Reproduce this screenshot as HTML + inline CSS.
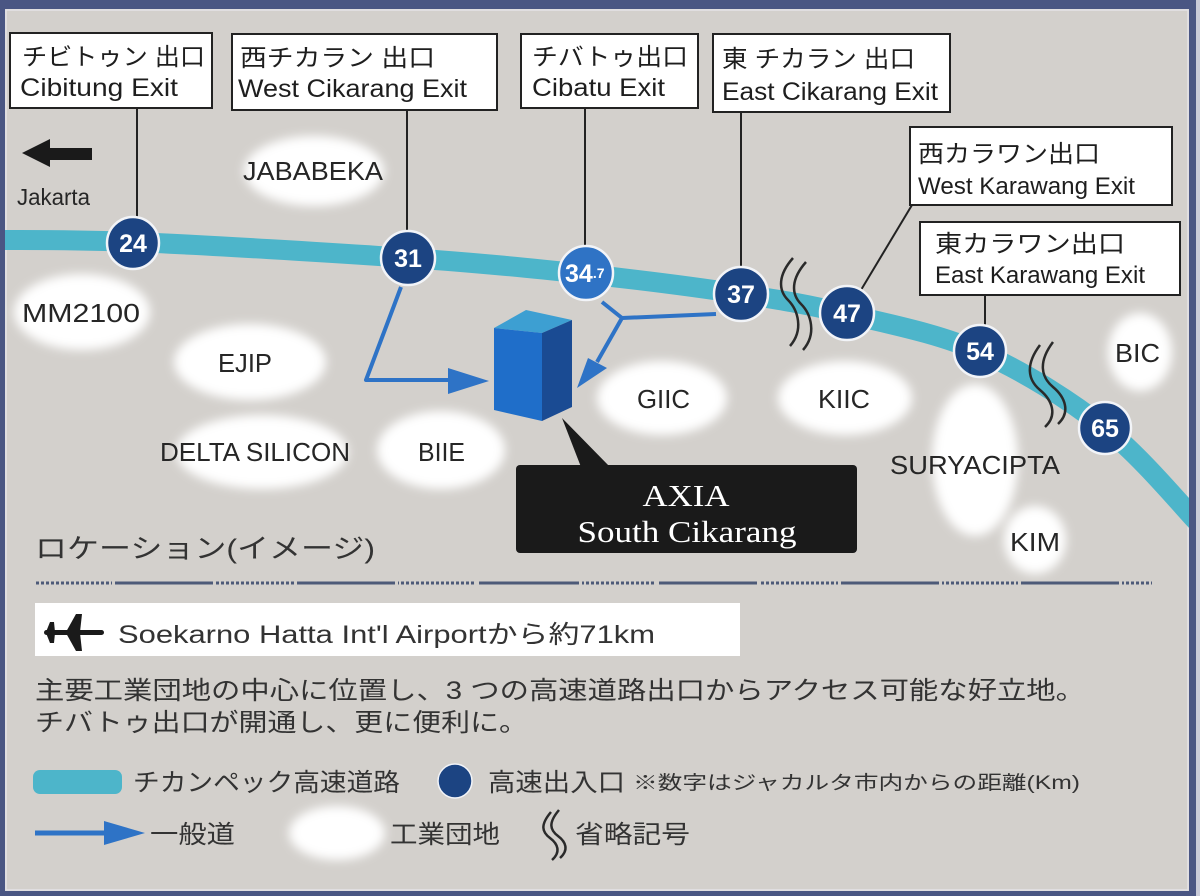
<!DOCTYPE html>
<html><head><meta charset="utf-8">
<style>
html,body{margin:0;padding:0;background:#d3d0cc;}
svg{display:block;}
.lab{font-family:"Liberation Sans","Noto Sans CJK JP",sans-serif;fill:#262626;}
.jp{font-family:"Liberation Sans","Noto Sans CJK JP",sans-serif;fill:#1e1e1e;}
.num{font-family:"Liberation Sans",sans-serif;font-weight:bold;fill:#fff;}
.btm{font-family:"Liberation Sans","Noto Sans CJK JP",sans-serif;fill:#333;}
</style></head><body>
<svg width="1200" height="896" viewBox="0 0 1200 896" xmlns="http://www.w3.org/2000/svg">
<defs>
<filter id="glow" x="-60%" y="-60%" width="220%" height="220%"><feGaussianBlur stdDeviation="5"/></filter>
<clipPath id="inner"><rect x="5" y="9" width="1184" height="882"/></clipPath>
</defs>
<rect width="1200" height="896" fill="#4a5683"/>
<rect x="1196" y="0" width="4" height="896" fill="#c9cbd8"/>
<rect x="5" y="9" width="1184" height="882" fill="#d3d0cc"/>
<rect x="6" y="10" width="1182" height="880" fill="none" stroke="#e4e3e6" stroke-width="1.5"/>

<g clip-path="url(#inner)">
<!-- industrial estates glow -->
<g fill="#fff" filter="url(#glow)">
<ellipse cx="314" cy="171" rx="70" ry="35"/>
<ellipse cx="82" cy="312" rx="68" ry="38"/>
<ellipse cx="250" cy="362" rx="76" ry="38"/>
<ellipse cx="262" cy="452" rx="86" ry="37"/>
<ellipse cx="441" cy="450" rx="64" ry="39"/>
<ellipse cx="662" cy="398" rx="65" ry="37"/>
<ellipse cx="845" cy="398" rx="67" ry="37"/>
<ellipse cx="975" cy="460" rx="43" ry="76"/>
<ellipse cx="1035" cy="540" rx="31" ry="34"/>
<ellipse cx="1140" cy="352" rx="32" ry="39"/>
<ellipse cx="337" cy="833" rx="48" ry="27"/>
</g>

<!-- highway -->
<path d="M -20 240 C 5.5 240.3, 61.7 239, 133 242 C 204.3 245, 332.7 252.7, 408 258 C 483.3 263.3, 529.5 268, 585 274 C 640.5 280, 697.3 287.3, 741 294 C 784.7 300.7, 807.2 304.3, 847 314 C 886.8 323.7, 937 333, 980 352 C 1023 371, 1068.3 399.2, 1105 428 C 1141.7 456.8, 1184.2 508.8, 1200 525" fill="none" stroke="#4db5ca" stroke-width="20"/>

<!-- exit boxes -->
<g fill="#fff" stroke="#222" stroke-width="2">
<rect x="10" y="33" width="202" height="75"/>
<rect x="232" y="34" width="265" height="76"/>
<rect x="521" y="34" width="177" height="74"/>
<rect x="713" y="34" width="237" height="78"/>
<rect x="910" y="127" width="262" height="78"/>
<rect x="920" y="222" width="260" height="73"/>
</g>
<g class="jp" font-size="24">
<text x="22" y="65" textLength="183" lengthAdjust="spacingAndGlyphs">チビトゥン 出口</text>
<text x="20" y="96" font-size="25" textLength="158" lengthAdjust="spacingAndGlyphs">Cibitung Exit</text>
<text x="240" y="66" textLength="195" lengthAdjust="spacingAndGlyphs">西チカラン 出口</text>
<text x="238" y="97" font-size="25" textLength="229" lengthAdjust="spacingAndGlyphs">West Cikarang Exit</text>
<text x="532" y="65" textLength="156" lengthAdjust="spacingAndGlyphs">チバトゥ出口</text>
<text x="532" y="96" font-size="25" textLength="133" lengthAdjust="spacingAndGlyphs">Cibatu Exit</text>
<text x="722" y="67" textLength="193" lengthAdjust="spacingAndGlyphs">東 チカラン 出口</text>
<text x="722" y="100" font-size="25" textLength="216" lengthAdjust="spacingAndGlyphs">East Cikarang Exit</text>
<text x="918" y="162" textLength="182" lengthAdjust="spacingAndGlyphs">西カラワン出口</text>
<text x="918" y="194" font-size="24" textLength="217" lengthAdjust="spacingAndGlyphs">West Karawang Exit</text>
<text x="935" y="252" textLength="190" lengthAdjust="spacingAndGlyphs">東カラワン出口</text>
<text x="935" y="283" font-size="24" textLength="210" lengthAdjust="spacingAndGlyphs">East Karawang Exit</text>
</g>

<!-- leader lines -->
<g stroke="#222" stroke-width="2" fill="none">
<line x1="137" y1="108" x2="137" y2="222"/>
<line x1="407" y1="110" x2="407" y2="236"/>
<line x1="585" y1="108" x2="585" y2="250"/>
<line x1="741" y1="112" x2="741" y2="272"/>
<line x1="912" y1="205" x2="858" y2="295"/>
<line x1="985" y1="295" x2="985" y2="330"/>
</g>

<!-- squiggles -->
<g stroke="#2a2a2a" stroke-width="2.5" fill="none">
<path d="M 793 258 C 778 275, 778 290, 788 300 S 804 330, 790 346"/>
<path d="M 806 262 C 791 279, 791 294, 801 304 S 817 334, 803 350"/>
<path d="M 1040 345 C 1025 365, 1028 380, 1040 390 S 1058 415, 1045 427"/>
<path d="M 1053 342 C 1038 362, 1041 377, 1053 387 S 1071 412, 1058 424"/>
<path d="M 551 812 C 540 825, 542 832, 550 838 S 561 852, 552 860"/>
<path d="M 559 810 C 548 823, 550 830, 558 836 S 569 850, 560 858"/>
</g>

<!-- blue roads -->
<g stroke="#2e73c6" stroke-width="4" fill="none" stroke-linejoin="round">
<polyline points="401,287 366,380 452,380"/>
<polyline points="602,302 622,318 716,314"/>
<line x1="622" y1="318" x2="597" y2="362"/>
</g>
<g fill="#2e73c6">
<polygon points="448,368 489,381 448,394"/>
<polygon points="588,358 607,368 577,388"/>
</g>

<!-- building -->
<polygon points="494,328 526,310 572,320 542,333" fill="#3d9fd2"/>
<polygon points="494,328 542,333 542,421 494,410" fill="#1f6ec9"/>
<polygon points="542,333 572,320 572,407 542,421" fill="#1a4b93"/>

<!-- callout -->
<polygon points="562,418 581,467 610,467" fill="#1a1a1a"/>
<rect x="516" y="465" width="341" height="88" rx="4" fill="#1a1a1a"/>
<text x="686" y="506" text-anchor="middle" font-family="'Liberation Serif',serif" font-size="31" fill="#fff" textLength="87" lengthAdjust="spacingAndGlyphs">AXIA</text>
<text x="687" y="542" text-anchor="middle" font-family="'Liberation Serif',serif" font-size="31" fill="#fff" textLength="219" lengthAdjust="spacingAndGlyphs">South Cikarang</text>

<!-- exit circles -->
<g stroke="#f2f4f8" stroke-width="2.5">
<circle cx="133" cy="243" r="26" fill="#1c4482"/>
<circle cx="408" cy="258" r="27" fill="#1c4482"/>
<circle cx="586" cy="273" r="27" fill="#2f73c5"/>
<circle cx="741" cy="294" r="27" fill="#1c4482"/>
<circle cx="847" cy="313" r="27" fill="#1c4482"/>
<circle cx="980" cy="351" r="26" fill="#1c4482"/>
<circle cx="1105" cy="428" r="26" fill="#1c4482"/>
</g>
<g class="num" font-size="25" text-anchor="middle">
<text x="133" y="252">24</text>
<text x="408" y="267">31</text>
<text x="741" y="303">37</text>
<text x="847" y="322">47</text>
<text x="980" y="360">54</text>
<text x="1105" y="437">65</text>
</g>
<text x="565" y="282" class="num" font-size="25">34<tspan font-size="14" dy="-4">.7</tspan></text>

<!-- Jakarta arrow -->
<polygon points="22,153 50,139 50,148 92,148 92,160 50,160 50,167" fill="#1a1a1a"/>
<text x="17" y="205" class="lab" font-size="23" textLength="73" lengthAdjust="spacingAndGlyphs">Jakarta</text>

<!-- estate labels -->
<g class="lab" font-size="26">
<text x="243" y="180" textLength="140" lengthAdjust="spacingAndGlyphs">JABABEKA</text>
<text x="22" y="322" textLength="118" lengthAdjust="spacingAndGlyphs">MM2100</text>
<text x="218" y="372" textLength="54" lengthAdjust="spacingAndGlyphs">EJIP</text>
<text x="160" y="461" textLength="190" lengthAdjust="spacingAndGlyphs">DELTA SILICON</text>
<text x="418" y="461" textLength="47" lengthAdjust="spacingAndGlyphs">BIIE</text>
<text x="637" y="408" textLength="53" lengthAdjust="spacingAndGlyphs">GIIC</text>
<text x="818" y="408" textLength="52" lengthAdjust="spacingAndGlyphs">KIIC</text>
<text x="890" y="474" textLength="170" lengthAdjust="spacingAndGlyphs">SURYACIPTA</text>
<text x="1010" y="551" textLength="50" lengthAdjust="spacingAndGlyphs">KIM</text>
<text x="1115" y="362" textLength="45" lengthAdjust="spacingAndGlyphs">BIC</text>
</g>
</g>

<!-- bottom section -->
<text x="35" y="558" class="btm" font-size="27" textLength="340" lengthAdjust="spacingAndGlyphs">ロケーション(イメージ)</text>

<!-- separator -->
<g stroke="#4d5a78" stroke-width="3">
<line x1="36" y1="583" x2="1152" y2="583" stroke-dasharray="3 2"/>
<line x1="115" y1="583" x2="213" y2="583"/>
<line x1="297" y1="583" x2="395" y2="583"/>
<line x1="479" y1="583" x2="579" y2="583"/>
<line x1="659" y1="583" x2="757" y2="583"/>
<line x1="841" y1="583" x2="939" y2="583"/>
<line x1="1021" y1="583" x2="1119" y2="583"/>
</g>
<g fill="#d3d0cc">
<rect x="112" y="580" width="3" height="6"/><rect x="213" y="580" width="3" height="6"/>
<rect x="294" y="580" width="3" height="6"/><rect x="395" y="580" width="3" height="6"/>
<rect x="476" y="580" width="3" height="6"/><rect x="579" y="580" width="3" height="6"/>
<rect x="656" y="580" width="3" height="6"/><rect x="757" y="580" width="3" height="6"/>
<rect x="838" y="580" width="3" height="6"/><rect x="939" y="580" width="3" height="6"/>
<rect x="1018" y="580" width="3" height="6"/><rect x="1119" y="580" width="3" height="6"/>
</g>

<!-- airport box -->
<rect x="35" y="603" width="705" height="53" fill="#fff"/>
<g fill="#1a1a1a">
<rect x="44" y="630" width="60" height="5" rx="2.5"/>
<polygon points="66,632 76,614 82,614 80,632"/>
<polygon points="66,633 76,651 82,651 80,633"/>
<polygon points="46,632 50,622 54,622 55,632"/>
<polygon points="46,633 50,643 54,643 55,633"/>
</g>
<text x="118" y="643" class="btm" font-size="25" fill="#222" textLength="537" lengthAdjust="spacingAndGlyphs">Soekarno Hatta Int'l Airportから約71km</text>

<text x="35" y="699" class="btm" font-size="25" textLength="1050" lengthAdjust="spacingAndGlyphs">主要工業団地の中心に位置し、3 つの高速道路出口からアクセス可能な好立地。</text>
<text x="35" y="731" class="btm" font-size="25" textLength="493" lengthAdjust="spacingAndGlyphs">チバトゥ出口が開通し、更に便利に。</text>

<!-- legend -->
<rect x="33" y="770" width="89" height="24" rx="7" fill="#4db5ca"/>
<text x="133" y="791" class="btm" font-size="25" textLength="267" lengthAdjust="spacingAndGlyphs">チカンペック高速道路</text>
<circle cx="455" cy="781" r="17" fill="#1c4482" stroke="#f2f4f8" stroke-width="1.5"/>
<text x="488" y="791" class="btm" font-size="25" textLength="137" lengthAdjust="spacingAndGlyphs">高速出入口</text>
<text x="633" y="789" class="btm" font-size="19" textLength="447" lengthAdjust="spacingAndGlyphs">※数字はジャカルタ市内からの距離(Km)</text>

<line x1="35" y1="833" x2="110" y2="833" stroke="#2e73c6" stroke-width="5"/>
<polygon points="104,821 145,833 104,845" fill="#2e73c6"/>
<text x="150" y="843" class="btm" font-size="25" textLength="85" lengthAdjust="spacingAndGlyphs">一般道</text>
<text x="390" y="843" class="btm" font-size="25" textLength="110" lengthAdjust="spacingAndGlyphs">工業団地</text>
<text x="575" y="843" class="btm" font-size="25" textLength="115" lengthAdjust="spacingAndGlyphs">省略記号</text>
</svg>
</body></html>
